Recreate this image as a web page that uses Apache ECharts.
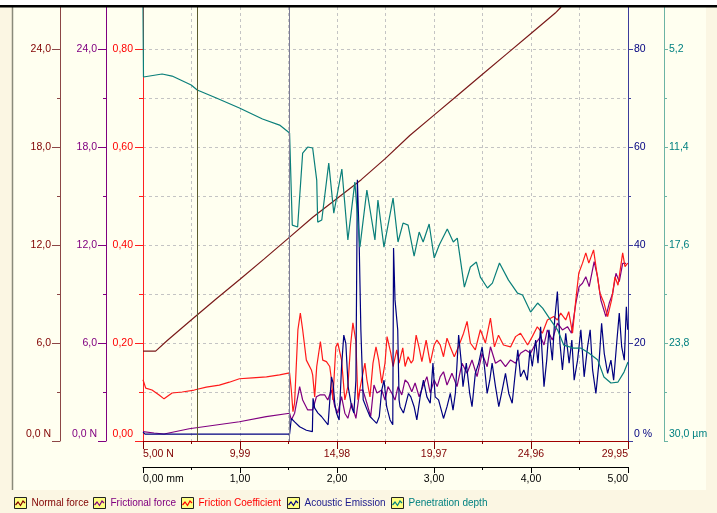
<!DOCTYPE html>
<html><head><meta charset="utf-8">
<script src="https://cdn.jsdelivr.net/npm/echarts@6/dist/echarts.min.js"></script>
<style>html,body{margin:0;padding:0;background:#fff}#c{width:717px;height:513px}</style>
</head><body><div id="c"></div>
<script>
// ---------------- data (distance in mm, value in series units) ----------------
const normalForce = [[0,5.50],[0.13,5.50],[0.25,6.15],[0.50,7.42],[0.75,8.68],[1.00,9.90],[1.25,11.15],[1.50,12.42],[1.75,13.70],[2.00,14.85],[2.25,16.00],[2.50,17.30],[2.75,18.70],[3.00,19.95],[3.25,21.20],[3.50,22.45],[3.75,23.70],[4.00,24.95],[4.25,26.20],[4.31,26.57]];

const frictionalForce = [[0,0.57],[0.114,0.49],[0.217,0.43],[0.476,0.75],[0.994,1.18],[1.270,1.49],[1.511,1.70],[1.529,1.29],[1.563,1.70],[1.615,3.33],[1.646,2.51],[1.698,1.90],[1.749,1.90],[1.788,2.71],[1.822,2.82],[1.874,2.82],[1.905,2.51],[1.943,3.12],[1.977,2.10],[2.008,1.70],[2.047,2.71],[2.081,1.70],[2.112,1.39],[2.150,2.31],[2.195,1.39],[2.236,3.12],[2.267,3.12],[2.308,2.31],[2.347,1.49],[2.381,3.43],[2.412,2.94],[2.461,3.12],[2.495,2.51],[2.526,3.33],[2.564,2.94],[2.598,2.51],[2.629,3.33],[2.668,2.82],[2.702,3.74],[2.733,3.55],[2.771,3.02],[2.805,3.55],[2.847,2.71],[2.885,3.33],[2.927,3.94],[2.961,2.94],[3.002,3.74],[3.033,3.33],[3.064,3.94],[3.098,4.24],[3.134,3.43],[3.185,4.15],[3.237,3.33],[3.289,4.76],[3.341,4.15],[3.392,4.96],[3.444,3.94],[3.496,5.37],[3.548,4.55],[3.582,5.77],[3.634,4.76],[3.685,4.96],[3.737,4.55],[3.789,4.96],[3.841,4.76],[3.892,5.37],[3.944,5.57],[3.996,5.37],[4.048,5.98],[4.099,6.39],[4.134,5.88],[4.169,6.80],[4.220,6.18],[4.272,7.21],[4.324,6.80],[4.376,7.00],[4.417,6.60],[4.462,8.43],[4.496,9.45],[4.531,9.66],[4.565,10.06],[4.600,9.45],[4.651,10.98],[4.686,10.06],[4.720,8.63],[4.772,7.61],[4.806,8.43],[4.842,9.04],[4.876,10.27],[4.910,9.76],[4.945,10.88],[4.979,10.88]];

const frictionCoefficient = [[0,0.125],[0.028,0.108],[0.093,0.104],[0.166,0.094],[0.217,0.086],[0.300,0.098],[0.404,0.100],[0.528,0.104],[0.652,0.110],[0.787,0.114],[0.890,0.120],[0.994,0.127],[1.128,0.129],[1.273,0.131],[1.408,0.135],[1.511,0.139],[1.529,0.104],[1.546,0.060],[1.563,0.078],[1.597,0.227],[1.622,0.261],[1.646,0.227],[1.684,0.165],[1.736,0.145],[1.749,0.135],[1.770,0.090],[1.791,0.152],[1.829,0.203],[1.853,0.165],[1.891,0.162],[1.925,0.152],[1.943,0.125],[1.957,0.084],[1.988,0.192],[2.008,0.200],[2.047,0.165],[2.081,0.084],[2.112,0.111],[2.140,0.196],[2.164,0.241],[2.195,0.203],[2.215,0.084],[2.254,0.125],[2.288,0.159],[2.308,0.125],[2.340,0.090],[2.371,0.159],[2.402,0.192],[2.430,0.165],[2.461,0.118],[2.495,0.159],[2.516,0.213],[2.554,0.180],[2.578,0.152],[2.616,0.186],[2.640,0.159],[2.678,0.190],[2.702,0.152],[2.733,0.172],[2.764,0.159],[2.785,0.165],[2.816,0.216],[2.847,0.190],[2.875,0.162],[2.919,0.206],[2.961,0.159],[3.002,0.196],[3.030,0.206],[3.064,0.196],[3.098,0.172],[3.134,0.210],[3.168,0.192],[3.209,0.172],[3.251,0.192],[3.305,0.220],[3.341,0.244],[3.375,0.200],[3.426,0.186],[3.478,0.227],[3.530,0.200],[3.582,0.251],[3.623,0.192],[3.665,0.216],[3.716,0.196],[3.789,0.192],[3.841,0.213],[3.892,0.220],[3.965,0.196],[4.013,0.213],[4.065,0.233],[4.117,0.220],[4.169,0.247],[4.234,0.254],[4.272,0.247],[4.306,0.261],[4.358,0.247],[4.389,0.264],[4.428,0.220],[4.462,0.288],[4.493,0.343],[4.531,0.363],[4.565,0.384],[4.596,0.363],[4.645,0.390],[4.679,0.343],[4.710,0.302],[4.752,0.282],[4.790,0.254],[4.831,0.288],[4.866,0.335],[4.897,0.318],[4.945,0.384],[4.969,0.356],[4.997,0.363]];

const acousticEmission = [[0,1.8],[0.021,1.4],[0.8,1.4],[1.511,1.4],[1.514,1.6],[1.529,4.6],[1.563,3.9],[1.615,2.9],[1.684,2.2],[1.746,1.9],[1.753,8.7],[1.770,6.7],[1.804,5.7],[1.840,5.0],[1.908,3.3],[1.925,3.6],[1.943,13.1],[1.960,11.8],[1.977,7.7],[1.995,5.7],[2.022,4.3],[2.047,15.2],[2.070,21.6],[2.091,19.9],[2.115,11.1],[2.150,7.0],[2.174,5.7],[2.195,12.4],[2.210,53.3],[2.226,43.1],[2.236,32.9],[2.246,22.7],[2.270,8.4],[2.312,6.3],[2.340,5.0],[2.374,4.3],[2.409,3.6],[2.436,5.0],[2.461,10.4],[2.485,12.4],[2.512,7.0],[2.547,4.3],[2.575,3.3],[2.583,39.4],[2.598,28.8],[2.626,22.7],[2.640,8.4],[2.650,7.0],[2.685,5.7],[2.737,9.7],[2.761,9.0],[2.795,7.0],[2.823,4.3],[2.857,9.0],[2.891,12.4],[2.927,9.0],[2.961,7.7],[2.989,15.9],[3.012,9.0],[3.047,8.4],[3.098,4.6],[3.134,7.0],[3.168,9.7],[3.196,6.3],[3.220,9.7],[3.254,21.6],[3.279,16.5],[3.299,11.1],[3.333,15.9],[3.368,9.7],[3.392,7.0],[3.426,13.8],[3.461,15.9],[3.496,19.2],[3.520,15.2],[3.548,9.7],[3.575,12.4],[3.599,15.9],[3.634,11.1],[3.668,7.0],[3.703,10.4],[3.737,13.8],[3.771,9.7],[3.806,7.7],[3.830,12.4],[3.864,18.6],[3.892,13.1],[3.926,14.5],[3.962,12.4],[3.989,18.6],[4.013,15.2],[4.048,20.6],[4.072,15.9],[4.099,23.3],[4.134,11.1],[4.162,16.5],[4.185,22.7],[4.220,16.5],[4.244,24.7],[4.272,30.5],[4.299,19.9],[4.324,14.5],[4.358,22.0],[4.393,15.9],[4.421,20.6],[4.445,12.4],[4.480,16.5],[4.514,22.7],[4.548,13.1],[4.583,19.2],[4.610,22.7],[4.635,14.5],[4.669,9.7],[4.703,16.5],[4.728,24.0],[4.755,17.9],[4.790,13.8],[4.824,16.5],[4.852,12.4],[4.886,20.6],[4.910,26.1],[4.935,19.2],[4.962,16.5],[4.983,27.4],[4.997,22.7]];

const penetrationDepth = [[0,2.5],[0.005,6.97],[0.197,6.78],[0.30,6.91],[0.497,7.48],[0.559,7.79],[0.756,8.30],[0.994,8.93],[1.232,9.63],[1.408,10.01],[1.511,10.51],[1.539,16.34],[1.594,16.46],[1.646,11.78],[1.698,11.40],[1.749,11.46],[1.791,13.49],[1.801,16.15],[1.843,16.02],[1.915,12.41],[1.967,15.58],[2.050,12.79],[2.112,17.28],[2.184,13.62],[2.236,17.73],[2.308,14.12],[2.391,17.28],[2.422,14.75],[2.484,17.73],[2.578,14.63],[2.629,17.41],[2.681,16.21],[2.733,16.34],[2.795,18.30],[2.847,16.78],[2.888,17.41],[2.950,16.27],[3.002,18.42],[3.054,17.60],[3.137,16.59],[3.199,17.41],[3.240,17.16],[3.313,20.26],[3.375,18.99],[3.437,18.68],[3.478,19.63],[3.551,20.32],[3.602,20.01],[3.675,18.74],[3.768,19.82],[3.861,20.64],[3.913,20.76],[3.996,21.84],[4.068,21.27],[4.120,21.59],[4.203,22.35],[4.275,22.98],[4.337,23.93],[4.441,24.12],[4.513,24.12],[4.596,24.43],[4.689,24.88],[4.752,25.95],[4.824,26.33],[4.897,26.27],[4.959,25.64],[5.0,25.00]];

const eventMarkers = [0.56, 1.511];

// axis ranges & tick labels
const forceRange = [0, 26.57];
const coefRange = [0, 0.8857];
const aeRange = [0, 88.57];
const depthRange = [2.54, 30];
const distRange = [0, 5];

const forceTicks = [0, 6, 12, 18, 24];
const forceMinor = [3, 9, 15, 21];
const normalForceLabels = ['0,0 N', '6,0', '12,0', '18,0', '24,0'];
const frictionalForceLabels = ['0,0 N', '6,0', '12,0', '18,0', '24,0'];
const coefTicks = [0, 0.2, 0.4, 0.6, 0.8];
const coefMinor = [0.1, 0.3, 0.5, 0.7];
const coefLabels = ['0,00', '0,20', '0,40', '0,60', '0,80'];
const aeTicks = [0, 20, 40, 60, 80];
const aeMinor = [10, 30, 50, 70];
const aeLabels = ['0 %', '20', '40', '60', '80'];
const depthTicks = [5.2, 11.4, 17.6, 23.8, 30.0];
const depthMinor = [8.3, 14.5, 20.7, 26.9];
const depthLabels = ['5,2', '11,4', '17,6', '23,8', '30,0 µm'];
const distLabels = ['0,00 mm', '1,00', '2,00', '3,00', '4,00', '5,00'];
const loadLabels = ['5,00 N', '9,99', '14,98', '19,97', '24,96', '29,95'];

// ---------------- chart ----------------
const FONT = '"Liberation Sans", Arial, sans-serif';
const FS = 10.5;
const C = {
  nf: '#800000', ff: '#800080', cof: '#ff0000', ae: '#000080', pd: '#008080'
};

function labelFor(ticks, labels, bottomValue, color) {
  return {
    customValues: ticks,
    color: color, fontSize: FS, fontFamily: FONT,
    formatter: function (v) {
      let i = ticks.findIndex(t => Math.abs(t - v) < 1e-6);
      if (i < 0) return '';
      if (Math.abs(ticks[i] - bottomValue) < 1e-6) return '{lo|' + labels[i] + '}';
      return labels[i];
    },
    rich: { lo: { color: color, fontSize: FS, fontFamily: FONT, padding: [0, 0, 13, 0] } }
  };
}

function yMain(pos, offset, range, ticks, labels, bottomValue, lineColor, textColor, tickLen, margin, inverse) {
  return {
    type: 'value', position: pos, offset: offset, min: range[0], max: range[1], inverse: !!inverse,
    axisLine: { show: true, onZero: false, lineStyle: { color: lineColor, width: 1 } },
    axisTick: { show: true, length: tickLen, customValues: ticks, lineStyle: { color: lineColor } },
    axisLabel: Object.assign(labelFor(ticks, labels, bottomValue, textColor), { margin: margin }),
    splitLine: { show: false }
  };
}
function yMinor(pos, offset, range, minors, lineColor, tickLen, inverse) {
  return {
    type: 'value', position: pos, offset: offset, min: range[0], max: range[1], inverse: !!inverse,
    axisLine: { show: false, onZero: false },
    axisTick: { show: true, length: tickLen, customValues: minors, lineStyle: { color: lineColor } },
    axisLabel: { show: false },
    splitLine: { show: false }
  };
}

const gridLine = { show: true, lineStyle: { color: '#c4c4c4', type: [3, 3], width: 1 } };

const yAxes = [
  yMain('left', 83, forceRange, forceTicks, normalForceLabels, 0, '#8c4646', C.nf, 8, 9),
  yMain('left', 37, forceRange, forceTicks, frictionalForceLabels, 0, '#800080', C.ff, 8, 9),
  yMain('left', 0, coefRange, coefTicks, coefLabels, 0, '#ff2020', C.cof, 8, 10),
  yMain('right', 0, aeRange, aeTicks, aeLabels, 0, '#3c3c9c', C.ae, 5, 6),
  yMain('right', 36, depthRange, depthTicks, depthLabels, 30, '#6cb4a4', C.pd, 4, 5, true),
  yMinor('left', 83, forceRange, forceMinor, '#8c4646', 3),
  yMinor('left', 37, forceRange, forceMinor, '#800080', 3),
  yMinor('left', 0, coefRange, coefMinor, '#ff2020', 4),
  yMinor('right', 0, aeRange, aeMinor, '#3c3c9c', 3),
  yMinor('right', 36, depthRange, depthMinor, '#6cb4a4', 3, true),
  { // horizontal grid lines every 3 N
    type: 'value', position: 'left', offset: 0, min: forceRange[0], max: forceRange[1], interval: 3,
    axisLine: { show: false, onZero: false }, axisTick: { show: false }, axisLabel: { show: false },
    splitLine: Object.assign({ showMinLine: false, showMaxLine: false }, gridLine)
  }
];

function xLabel(labels, color) {
  return {
    color: color, fontSize: FS, fontFamily: FONT,
    alignMinLabel: 'left', alignMaxLabel: 'right',
    formatter: function (v) {
      const i = Math.round(v);
      return (Math.abs(i - v) < 1e-6 && labels[i] !== undefined) ? labels[i] : '';
    }
  };
}

const xAxes = [
  { // distance axis (data axis)
    type: 'value', position: 'bottom', offset: 26, min: distRange[0], max: distRange[1], interval: 1,
    axisLine: { show: true, onZero: false, lineStyle: { color: '#000' } },
    axisTick: { show: true, length: 6, lineStyle: { color: '#000' } },
    minorTick: { show: true, splitNumber: 2, length: 3, lineStyle: { color: '#000' } },
    axisLabel: Object.assign(xLabel(distLabels, '#000'), { margin: 7 }),
    splitLine: Object.assign({ showMinLine: false, showMaxLine: false }, gridLine),
    minorSplitLine: gridLine
  },
  { // load axis
    type: 'value', position: 'bottom', offset: 0, min: distRange[0], max: distRange[1], interval: 1,
    axisLine: { show: true, onZero: false, lineStyle: { color: '#a00000' } },
    axisTick: { show: true, length: 8, lineStyle: { color: '#800000' } },
    minorTick: { show: true, splitNumber: 2, length: 3, lineStyle: { color: '#800000' } },
    axisLabel: Object.assign(xLabel(loadLabels, '#800000'), { margin: 8 }),
    splitLine: { show: false }
  }
];

function lineSeries(name, data, yIdx, color, extra) {
  return Object.assign({
    name: name, type: 'line', data: data, xAxisIndex: 0, yAxisIndex: yIdx,
    showSymbol: false, symbol: 'none', smooth: false, clip: true,
    lineStyle: { color: color, width: 1.2 }, itemStyle: { color: color }, z: 3
  }, extra || {});
}

const series = [
  lineSeries('Normal force', normalForce, 0, '#7a1a1a', {
    markLine: {
      silent: true, symbol: ['none', 'none'], label: { show: false }, animation: false,
      data: [
        { xAxis: eventMarkers[0], lineStyle: { color: '#5c5c2e', type: 'solid', width: 1 } },
        { xAxis: eventMarkers[1], lineStyle: { color: '#7c7c96', type: 'solid', width: 1 } }
      ]
    }
  }),
  lineSeries('Frictional force', frictionalForce, 1, '#800080'),
  lineSeries('Friction Coefficient', frictionCoefficient, 2, '#ff1a1a'),
  lineSeries('Acoustic Emission', acousticEmission, 3, '#000080'),
  lineSeries('Penetration depth', penetrationDepth, 4, '#0a7f7a')
];

const legendNames = ['Normal force', 'Frictional force', 'Friction Coefficient', 'Acoustic Emission', 'Penetration depth'];
const legendColors = [C.nf, C.ff, C.cof, '#1a1a8c', C.pd];
const legendLineColors = ['#800000', '#800080', '#ff0000', '#000080', '#008080'];
const legendLeft = [14, 93, 181, 287, 391];
const legends = legendNames.map((n, i) => ({
  data: [{ name: n, icon: 'rect', itemStyle: { color: '#ffff80', borderColor: '#222', borderWidth: 1 } }],
  left: legendLeft[i], top: 497, itemWidth: 12, itemHeight: 11, itemGap: 0, padding: 0,
  selectedMode: false, z: 10,
  textStyle: { color: legendColors[i], fontSize: 10, fontFamily: FONT }
}));
// zig-zag glyph drawn inside each legend swatch
const legendGlyphs = legendLeft.map((x, i) => ({
  type: 'polyline', z: 60, silent: true,
  shape: { points: [[x + 1.5, 505], [x + 4, 502], [x + 6.5, 505.5], [x + 9, 501], [x + 11, 503]] },
  style: { stroke: legendLineColors[i], lineWidth: 1.2, fill: null }
}));

const chart = echarts.init(document.getElementById('c'), null, { renderer: 'canvas' });
chart.setOption({
  animation: false,
  backgroundColor: '#fffff0',
  grid: { left: 143, right: 89, top: 7, bottom: 72, show: false, containLabel: false },
  xAxis: xAxes,
  yAxis: yAxes,
  legend: legends,
  series: series,
  graphic: [
    { type: 'rect', z: -10, silent: true, shape: { x: 0, y: 0, width: 717, height: 5 }, style: { fill: '#ffffff' } },
    { type: 'rect', z: -10, silent: true, shape: { x: 706, y: 5, width: 11, height: 508 }, style: { fill: '#fbf6e3' } },
    { type: 'rect', z: -10, silent: true, shape: { x: 0, y: 490, width: 717, height: 23 }, style: { fill: '#fbf6e3' } },
    { type: 'rect', z: -10, silent: true, shape: { x: 0, y: 5, width: 12, height: 508 }, style: { fill: '#fbf6e3' } },
    { type: 'line', z: 50, silent: true, shape: { x1: 12.5, y1: 7, x2: 12.5, y2: 490 }, style: { stroke: '#8a8a7a', lineWidth: 1.5 } },
    { type: 'rect', z: 50, silent: true, shape: { x: 0, y: 5, width: 717, height: 2.5 }, style: { fill: '#000000' } }
  ].concat(legendGlyphs)
});
</script>
</body></html>
